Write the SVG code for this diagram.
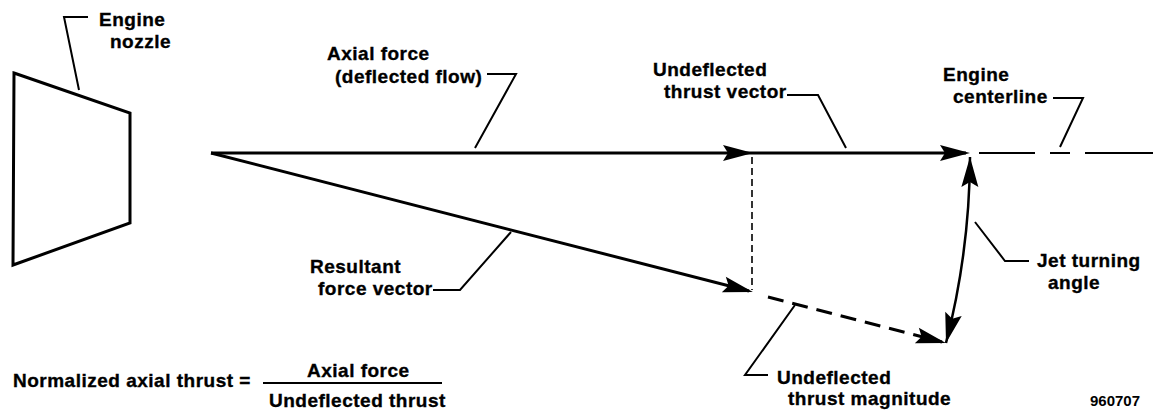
<svg xmlns="http://www.w3.org/2000/svg" width="1153" height="411" viewBox="0 0 1153 411">
<style>
.t{font-family:"Liberation Sans",Arial,sans-serif;font-weight:bold;font-size:19px;letter-spacing:0.5px;fill:#000;stroke:#000;stroke-width:0.35px}
.id{font-family:"Liberation Sans",Arial,sans-serif;font-weight:bold;font-size:15px;fill:#000}
.thick{stroke:#000;stroke-width:3;fill:none}
.lead{stroke:#000;stroke-width:2;fill:none;stroke-linejoin:miter}
.dashv{stroke:#000;stroke-width:1.6;fill:none;stroke-dasharray:7 4}
.dashs{stroke:#000;stroke-width:3;fill:none;stroke-dasharray:16 9}
.cl{stroke:#000;stroke-width:2;fill:none}
</style>
<defs>
<marker id="ah" markerUnits="userSpaceOnUse" markerWidth="32" markerHeight="20" refX="26" refY="10" orient="auto" overflow="visible">
<path d="M0,2 L30,10 L0,18 L5,10 z" fill="#000"/>
</marker>
<marker id="ahArc" markerUnits="userSpaceOnUse" markerWidth="32" markerHeight="20" refX="30" refY="10" orient="auto-start-reverse" overflow="visible">
<path d="M0,1.5 L30,10 L0,18.5 L5,10 z" fill="#000"/>
</marker>
</defs>
<rect width="1153" height="411" fill="#fff"/>

<g id="nozzle">
<polygon points="14,73 130,113 130,223 13,265" class="thick" stroke-linejoin="miter"/>
</g>

<g id="connectors">
<line x1="211" y1="153" x2="749" y2="153" class="thick" marker-end="url(#ah)"/>
<line x1="749" y1="153" x2="966" y2="153" class="thick" marker-end="url(#ah)"/>
<line x1="211" y1="153" x2="749" y2="291" class="thick" marker-end="url(#ah)"/>
<line x1="752" y1="157" x2="752" y2="290" class="dashv"/>
<line x1="768" y1="297" x2="942" y2="342" class="dashs" marker-end="url(#ah)"/>
<line x1="979" y1="153" x2="1035" y2="153" class="cl"/>
<line x1="1050" y1="153" x2="1070" y2="153" class="cl"/>
<line x1="1085" y1="153" x2="1153" y2="153" class="cl"/>
<path d="M970,157 A759,759 0 0 1 946,343" stroke="#000" stroke-width="2.5" fill="none" marker-start="url(#ahArc)" marker-end="url(#ahArc)"/>
<polyline points="88,17 64,17 79,90" class="lead"/>
<polyline points="487,74 516,74 475,148" class="lead"/>
<polyline points="787,95 818,95 846,148" class="lead"/>
<polyline points="1053,98 1083,98 1060,147" class="lead"/>
<polyline points="433,290 460,290 511,232" class="lead"/>
<polyline points="975,222 1005,261 1029,261" class="lead"/>
<polyline points="795,305 745,375 768,375" class="lead"/>
</g>

<g id="label-engine-nozzle">
<text class="t" x="99" y="26">Engine</text>
<text class="t" x="110" y="48">nozzle</text>
</g>
<g id="label-axial-force">
<text class="t" x="327" y="60">Axial force</text>
<text class="t" x="335" y="83">(deflected flow)</text>
</g>
<g id="label-undeflected-thrust-vector">
<text class="t" x="653" y="76">Undeflected</text>
<text class="t" x="664" y="98">thrust vector</text>
</g>
<g id="label-engine-centerline">
<text class="t" x="943" y="81">Engine</text>
<text class="t" x="953" y="103">centerline</text>
</g>
<g id="label-resultant">
<text class="t" x="310" y="273">Resultant</text>
<text class="t" x="318" y="295">force vector</text>
</g>
<g id="label-jet-turning">
<text class="t" x="1037" y="267">Jet turning</text>
<text class="t" x="1048" y="289">angle</text>
</g>
<g id="label-undeflected-magnitude">
<text class="t" x="777" y="384">Undeflected</text>
<text class="t" x="788" y="405">thrust magnitude</text>
</g>
<g id="formula">
<text class="t" x="13" y="387">Normalized axial thrust =</text>
<text class="t" x="307" y="377">Axial force</text>
<line x1="263" y1="383" x2="442" y2="383" stroke="#000" stroke-width="2"/>
<text class="t" x="269" y="407">Undeflected thrust</text>
</g>
<g id="figure-id">
<text class="id" x="1090" y="406">960707</text>
</g>
</svg>
